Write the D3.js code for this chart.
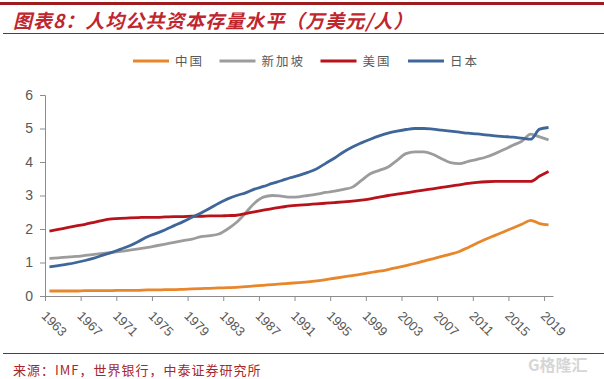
<!DOCTYPE html>
<html>
<head>
<meta charset="utf-8">
<script src="https://cdn.jsdelivr.net/npm/d3@7"></script>
<style>
  body { margin: 0; background: #fff; }
  svg { display: block; font-family: "Liberation Sans", Arial, sans-serif; }
</style>
</head>
<body>
<script>
// Years 1963..2019
const years = d3.range(1963, 2020);
const tickYears = [1963, 1967, 1971, 1975, 1979, 1983, 1987, 1991, 1995, 1999, 2003, 2007, 2011, 2015, 2019];
const yTicks = [0, 1, 2, 3, 4, 5, 6];

const seriesNames = ["中国", "新加坡", "美国", "日本"];
const seriesColors = ["#E8862C", "#9C9C9C", "#B8121B", "#3F6699"];

const china = [0.15, 0.15, 0.15, 0.15, 0.16, 0.16, 0.16, 0.16, 0.17, 0.17,
  0.17, 0.18, 0.18, 0.19, 0.19, 0.20, 0.21, 0.22, 0.23, 0.24,
  0.25, 0.26, 0.28, 0.30, 0.32, 0.34, 0.36, 0.38, 0.40, 0.42,
  0.45, 0.49, 0.53, 0.57, 0.61, 0.65, 0.70, 0.74, 0.79, 0.85,
  0.91, 0.97, 1.04, 1.11, 1.18, 1.25, 1.33, 1.45, 1.58, 1.70,
  1.81, 1.92, 2.03, 2.14, 2.26, 2.16, 2.12];

const singapore = [1.12, 1.14, 1.16, 1.18, 1.21, 1.24, 1.27, 1.30, 1.33, 1.37,
  1.41, 1.45, 1.50, 1.55, 1.60, 1.65, 1.70, 1.77, 1.80, 1.85,
  2.00, 2.20, 2.48, 2.77, 2.95, 3.00, 2.98, 2.95, 2.96, 3.00,
  3.04, 3.09, 3.13, 3.18, 3.25, 3.45, 3.65, 3.75, 3.85, 4.05,
  4.25, 4.30, 4.30, 4.23, 4.10, 3.98, 3.95, 4.02, 4.08, 4.15,
  4.25, 4.37, 4.50, 4.62, 4.83, 4.75, 4.66];

const usa = [1.94, 1.99, 2.04, 2.09, 2.14, 2.20, 2.26, 2.30, 2.32, 2.33,
  2.34, 2.35, 2.35, 2.36, 2.37, 2.37, 2.38, 2.38, 2.39, 2.39,
  2.40, 2.41, 2.46, 2.51, 2.56, 2.61, 2.65, 2.69, 2.71, 2.73,
  2.75, 2.77, 2.79, 2.81, 2.83, 2.86, 2.90, 2.95, 3.00, 3.04,
  3.08, 3.12, 3.16, 3.20, 3.24, 3.28, 3.32, 3.36, 3.39, 3.41,
  3.42, 3.42, 3.42, 3.42, 3.42, 3.58, 3.72];

const japan = [0.87, 0.91, 0.95, 1.00, 1.06, 1.13, 1.22, 1.30, 1.40, 1.50,
  1.63, 1.77, 1.87, 1.98, 2.10, 2.22, 2.35, 2.48, 2.62, 2.77,
  2.90, 3.00, 3.08, 3.19, 3.27, 3.36, 3.44, 3.53, 3.60, 3.69,
  3.80, 3.96, 4.12, 4.30, 4.45, 4.57, 4.68, 4.78, 4.86, 4.92,
  4.97, 5.00, 5.00, 4.98, 4.95, 4.92, 4.89, 4.86, 4.84, 4.81,
  4.78, 4.76, 4.74, 4.71, 4.68, 4.98, 5.03];

const seriesValues = [china, singapore, usa, japan];

const W = 604, H = 379;
const svg = d3.select("body").append("svg")
  .attr("width", W)
  .attr("height", H);

// header / footer rules
svg.append("rect").attr("x", 0).attr("y", 2).attr("width", W).attr("height", 3).attr("fill", "#9E1B1E");
svg.append("line").attr("x1", 3).attr("x2", W).attr("y1", 33.5).attr("y2", 33.5)
  .attr("stroke", "#9E1B1E").attr("stroke-width", 1);
svg.append("line").attr("x1", 3).attr("x2", W).attr("y1", 353.5).attr("y2", 353.5)
  .attr("stroke", "#9E1B1E").attr("stroke-width", 1);

// title
svg.append("text")
  .attr("x", 13).attr("y", 28)
  .attr("fill", "#C0262D")
  .attr("font-family", "'Noto Sans CJK SC', sans-serif")
  .attr("font-size", 19)
  .attr("font-weight", "bold")
  .attr("font-style", "italic")
  .attr("letter-spacing", 1)
  .text("图表8：人均公共资本存量水平（万美元/人）");

// source
svg.append("text")
  .attr("x", 13).attr("y", 375)
  .attr("fill", "#A8262B")
  .attr("font-family", "'Noto Sans CJK SC', sans-serif")
  .attr("font-size", 13)
  .attr("letter-spacing", 1)
  .text("来源：IMF，世界银行，中泰证券研究所");

// watermark
svg.append("text")
  .attr("x", 528).attr("y", 371)
  .attr("fill", "#D6D6D6")
  .attr("font-family", "'Noto Sans CJK SC', sans-serif")
  .attr("font-size", 16)
  .attr("font-weight", "bold")
  .text("G格隆汇");

// scales
const x = d3.scaleLinear().domain([1962.5, 2019.5]).range([45, 553]);
const y = d3.scaleLinear().domain([0, 6]).range([296, 95]);

// y axis
const yAxis = svg.append("g")
  .attr("transform", "translate(45,0)")
  .call(d3.axisLeft(y).tickValues(yTicks).tickSize(5).tickPadding(7).tickFormat(d3.format("d")));
yAxis.selectAll("path, line").attr("stroke", "#8C8C8C");
yAxis.selectAll("text").attr("fill", "#595959").attr("font-size", 14)
  .attr("font-family", "'Liberation Sans', Arial, sans-serif");

// x axis: ticks on category boundaries
const boundaries = tickYears.map(d => d - 0.5);
const xAxis = svg.append("g")
  .attr("transform", "translate(0,296)")
  .call(d3.axisBottom(x).tickValues(boundaries).tickSize(5).tickSizeOuter(0).tickFormat(""));
xAxis.selectAll("path, line").attr("stroke", "#8C8C8C");

// x labels, rotated
svg.append("g").selectAll("text")
  .data(tickYears)
  .join("text")
  .attr("transform", d => `translate(${x(d) - 2},310) rotate(45)`)
  .attr("dy", "0.72em")
  .attr("fill", "#595959")
  .attr("font-size", 13)
  .attr("font-family", "'Liberation Sans', Arial, sans-serif")
  .text(d => d);

// lines
const line = d3.line()
  .x((d, i) => x(years[i]))
  .y(d => y(d))
  .curve(d3.curveMonotoneX);

svg.append("g").selectAll("path")
  .data(seriesValues)
  .join("path")
  .attr("fill", "none")
  .attr("stroke", (d, i) => seriesColors[i])
  .attr("stroke-width", 2.8)
  .attr("stroke-linejoin", "round")
  .attr("d", line);

// legend
const legendX = [133, 219.5, 320.5, 408];
const legend = svg.append("g").selectAll("g")
  .data(seriesNames)
  .join("g")
  .attr("transform", (d, i) => `translate(${legendX[i]},61)`);
legend.append("line")
  .attr("x1", 0).attr("x2", 36)
  .attr("stroke", (d, i) => seriesColors[i])
  .attr("stroke-width", 3);
legend.append("text")
  .attr("x", 42).attr("dy", "0.36em")
  .attr("fill", "#595959")
  .attr("font-family", "'Noto Sans CJK SC', sans-serif")
  .attr("font-size", 12.5)
  .attr("letter-spacing", 2)
  .text(d => d);
</script>
</body>
</html>
